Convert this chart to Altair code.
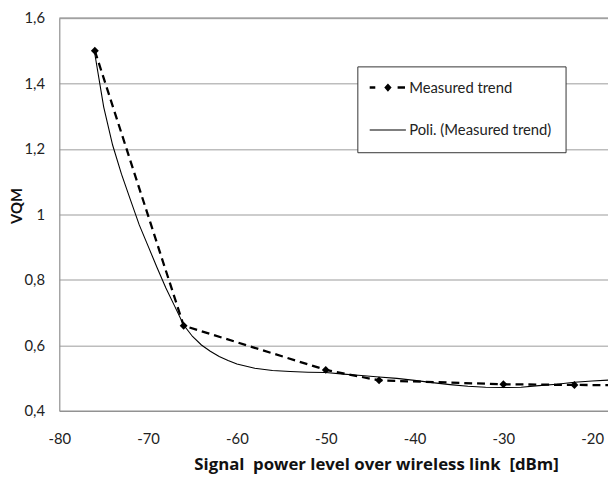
import altair as alt
import pandas as pd

# ---------------- data ----------------
meas_x = [-76, -66, -50, -44, -30, -22, -15]
meas_y = [1.50, 0.66, 0.525, 0.493, 0.481, 0.479, 0.478]

trend_x = [-76, -75, -74, -73, -72, -71, -70, -69, -68, -67, -66, -65, -64, -63,
           -62, -61, -60, -58, -56, -54, -52, -50, -48, -46, -44, -42, -40, -38,
           -36, -34, -32, -30, -28, -26, -24, -22, -20, -18]
trend_y = [1.49, 1.328, 1.212, 1.123, 1.045, 0.968, 0.903, 0.838, 0.775, 0.719,
           0.662, 0.627, 0.601, 0.582, 0.566, 0.554, 0.543, 0.530, 0.523, 0.520,
           0.518, 0.517, 0.512, 0.508, 0.503, 0.499, 0.493, 0.486, 0.480, 0.475,
           0.472, 0.471, 0.472, 0.477, 0.481, 0.487, 0.491, 0.494]

x_ticks = [-80, -70, -60, -50, -40, -30, -20]
y_ticks = [0.4, 0.6, 0.8, 1.0, 1.2, 1.4, 1.6]
series = ["Measured trend", "Poli. (Measured trend)"]

meas = pd.DataFrame({"x": meas_x, "y": meas_y, "series": series[0]})
trend = pd.DataFrame({"x": trend_x, "y": trend_y})

FONT = "Lato"
AXIS_COLOR = "#868686"

xscale = alt.Scale(domain=[-80, -18.22], nice=False, zero=False)
yscale = alt.Scale(domain=[0.4, 1.6], nice=False, zero=False)

x_enc = alt.X(
    "x:Q", scale=xscale,
    axis=alt.Axis(
        values=x_ticks, grid=False, ticks=False, labelPadding=21,
        labelFlush=False, labelExpr="toString(datum.value)",
        domainColor=AXIS_COLOR, domainWidth=1,
        labelFont=FONT, labelFontSize=15, labelColor="#222",
        title="Signal\u00a0 power level over wireless link\u00a0 [dBm]",
        titleFont="Open Sans", titleFontSize=17, titleFontWeight="bold", titleColor="#111",
        titleX=321, titleY=60, titleAlign="center", titleBaseline="alphabetic",
    ),
)
y_enc = alt.Y(
    "y:Q", scale=yscale,
    axis=alt.Axis(
        values=y_ticks, grid=True, gridColor="#bdbdbd", gridWidth=1.5,
        ticks=False, labelPadding=15, labelFlush=False,
        labelExpr="replace(format(datum.value, '~g'), '.', ',')",
        domainColor=AXIS_COLOR, domainWidth=1,
        labelFont=FONT, labelFontSize=15, labelColor="#222",
        title="VQM", titleFont=FONT, titleFontSize=15, titleFontWeight="bold",
        titleColor="#111", titleX=-43, titleY=190, titleAngle=270,
        titleAlign="center", titleBaseline="middle",
    ),
)

meas_line = alt.Chart(meas).mark_line(
    color="black", strokeWidth=2.3, strokeDash=[8, 5], clip=True
).encode(x=x_enc, y=y_enc)

meas_pts = alt.Chart(meas).mark_point(
    shape="diamond", filled=True, color="black", size=64, opacity=1, clip=True
).encode(x=x_enc, y=y_enc)

trend_line = alt.Chart(trend).mark_line(
    color="black", strokeWidth=1.1, clip=True
).encode(x=x_enc, y=y_enc)

top_border = alt.Chart(pd.DataFrame({"a": [0]})).mark_rule(
    color=AXIS_COLOR, strokeWidth=1
).encode(y=alt.value(0))

# legend symbols (custom paths, unit = 7px)
path_meas = ("M-2.64,-0.18L-1.83,-0.18L-1.83,0.18L-2.64,0.18Z "
             "M0,-0.6L0.53,0L0,0.6L-0.53,0Z "
             "M1.4,-0.18L2.47,-0.18L2.47,0.18L1.4,0.18Z")
path_trend = "M-2.64,-0.075L2.6,-0.075L2.6,0.075L-2.64,0.075Z"

legend_layer = alt.Chart(meas).transform_filter("false").mark_point(
    filled=True, color="black", size=196, opacity=1
).encode(
    x=x_enc, y=y_enc,
    shape=alt.Shape(
        "series:N",
        scale=alt.Scale(domain=series, range=[path_meas, path_trend]),
        legend=alt.Legend(
            title=None, orient="none", legendX=302, legendY=49,
            padding=14, symbolOffset=9.5, labelOffset=14, rowPadding=27,
            fillColor="white", strokeColor="#333",
            labelFont=FONT, labelFontSize=15, labelColor="#222", labelLimit=400,
            symbolSize=196, symbolFillColor="black", symbolStrokeWidth=0,
            symbolOpacity=1,
        ),
    ),
)

chart = alt.layer(top_border, trend_line, meas_line, meas_pts, legend_layer).properties(
    width=556, height=398,
    autosize=alt.AutoSizeParams(type="none"),
    padding={"left": 52, "top": 7, "right": 0, "bottom": 69},
).configure_view(stroke=None).configure(background="white")

chart.save("out.html", embed_options={"renderer": "svg", "actions": False})
